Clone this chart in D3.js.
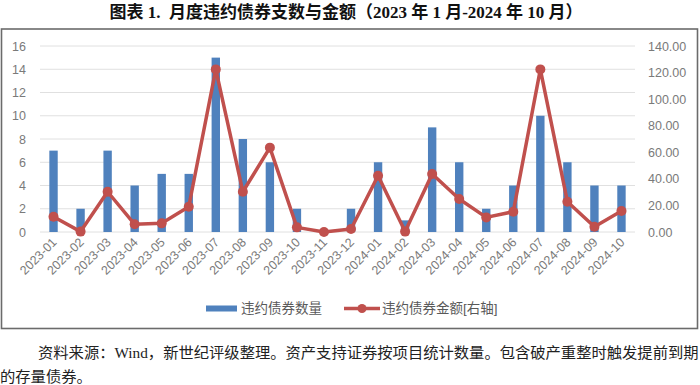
<!DOCTYPE html>
<html>
  <head>
    <meta charset="utf-8">
    <script src="https://d3js.org/d3.v7.min.js"></script>
    <style>
      body { margin: 0; background: #fff; }
      svg text { font-family: Arial, "Liberation Sans", "Noto Sans CJK SC", sans-serif; }
      .tick-label { fill: #7a7a7a; font-size: 12.5px; }
      .serif { font-family: "Liberation Serif", "Noto Sans CJK SC", serif !important; white-space: pre; }
    </style>
  </head>
<body>
  <script type="text/javascript">
    // months on the x axis
    var months = ["2023-01","2023-02","2023-03","2023-04","2023-05","2023-06",
                  "2023-07","2023-08","2023-09","2023-10","2023-11","2023-12",
                  "2024-01","2024-02","2024-03","2024-04","2024-05","2024-06",
                  "2024-07","2024-08","2024-09","2024-10"];
    // 违约债券数量 (left axis)
    var counts = [7, 2, 7, 4, 5, 5, 15, 8, 6, 2, 0, 2,
                  6, 1, 9, 6, 2, 4, 10, 6, 4, 4];
    // 违约债券金额 (right axis)
    var amounts = [11.5, 0.3, 30.3, 5.8, 6.5, 19.0, 122.4, 30.3, 63.5, 3.5, 0.0, 2.3,
                   42.4, 0.3, 43.7, 24.8, 11.0, 15.3, 122.4, 22.8, 4.0, 15.8];
    var leftTicks = [0, 2, 4, 6, 8, 10, 12, 14, 16];
    var rightTicks = [0, 20, 40, 60, 80, 100, 120, 140];

    var W = 700, H = 385;
    var blue = "#4f81bd", red = "#c0504d";

    var svg = d3.select("body").append("svg")
        .attr("width", W).attr("height", H);

    /*
      title and frame
    */
    svg.append("text")
        .attr("class", "serif")
        .attr("x", 346).attr("y", 18)
        .attr("text-anchor", "middle")
        .style("font-size", "17px")
        .style("font-weight", "bold")
        .style("fill", "#111")
        .text("图表 1.  月度违约债券支数与金额（2023 年 1 月-2024 年 10 月）");

    svg.append("rect")
        .attr("x", 1.5).attr("y", 29)
        .attr("width", 696).attr("height", 299.5)
        .attr("fill", "none")
        .attr("stroke", "#6b6b6b")
        .attr("stroke-width", 1.6);

    /*
      scales
    */
    var x = d3.scaleBand().domain(months)
        .range([40, 635]).paddingInner(0.69).paddingOuter(0.345);
    var yL = d3.scaleLinear().domain([0, 16]).range([232, 46]);
    var yR = d3.scaleLinear().domain([0, 140]).range([232, 46]);
    var cx = function(m) { return x(m) + x.bandwidth() / 2; };

    // gridlines
    svg.append("g").selectAll("line").data(leftTicks).join("line")
        .attr("x1", 40).attr("x2", 635)
        .attr("y1", function(d) { return yL(d); })
        .attr("y2", function(d) { return yL(d); })
        .attr("stroke", "#e0e0e0").attr("stroke-width", 1);

    // left axis labels
    var gl = svg.append("g").attr("transform", "translate(26,0)")
        .call(d3.axisLeft(yL).tickValues(leftTicks).tickSize(0).tickPadding(0));
    gl.select(".domain").remove();
    gl.selectAll("text").attr("class", "tick-label").attr("fill", null);

    // right axis labels
    var gr = svg.append("g").attr("transform", "translate(648,0)")
        .call(d3.axisRight(yR).tickValues(rightTicks).tickSize(0).tickPadding(0)
              .tickFormat(d3.format(".2f")));
    gr.select(".domain").remove();
    gr.selectAll("text").attr("class", "tick-label").attr("fill", null);

    // x labels
    svg.append("g").selectAll("text").data(months).join("text")
        .attr("class", "tick-label")
        .attr("text-anchor", "end")
        .attr("transform", function(d) {
          return "translate(" + (cx(d) + 4) + ",243) rotate(-45)";
        })
        .text(function(d) { return d; });

    /*
      bars
    */
    svg.append("g").selectAll("rect").data(counts).join("rect")
        .attr("x", function(d, i) { return x(months[i]); })
        .attr("y", function(d) { return yL(d); })
        .attr("width", x.bandwidth())
        .attr("height", function(d) { return yL(0) - yL(d); })
        .attr("fill", blue);

    /*
      line with markers
    */
    var line = d3.line()
        .x(function(d, i) { return cx(months[i]); })
        .y(function(d) { return yR(d); });
    svg.append("path").datum(amounts)
        .attr("d", line)
        .attr("fill", "none")
        .attr("stroke", red)
        .attr("stroke-width", 3.5)
        .attr("stroke-linejoin", "round");
    svg.append("g").selectAll("circle").data(amounts).join("circle")
        .attr("cx", function(d, i) { return cx(months[i]); })
        .attr("cy", function(d) { return yR(d); })
        .attr("r", 5)
        .attr("fill", red);

    /*
      legend
    */
    var lg = svg.append("g");
    lg.append("rect").attr("x", 206).attr("y", 305.5)
        .attr("width", 31).attr("height", 6).attr("fill", blue);
    lg.append("text").attr("x", 241).attr("y", 313)
        .style("font-size", "13.5px").style("fill", "#595959")
        .text("违约债券数量");
    lg.append("line").attr("x1", 344).attr("x2", 380)
        .attr("y1", 308.5).attr("y2", 308.5)
        .attr("stroke", red).attr("stroke-width", 3.5);
    lg.append("circle").attr("cx", 362).attr("cy", 308.5).attr("r", 4.5).attr("fill", red);
    lg.append("text").attr("x", 382).attr("y", 313)
        .style("font-size", "13.5px").style("fill", "#595959")
        .text("违约债券金额[右轴]");

    /*
      source note
    */
    svg.append("text").attr("class", "serif")
        .attr("x", 38).attr("y", 358)
        .style("font-size", "15.3px").style("fill", "#222")
        .text("资料来源：Wind，新世纪评级整理。资产支持证券按项目统计数量。包含破产重整时触发提前到期");
    svg.append("text").attr("class", "serif")
        .attr("x", 0).attr("y", 382)
        .style("font-size", "15.3px").style("fill", "#222")
        .text("的存量债券。");
  </script>
</body>
</html>
